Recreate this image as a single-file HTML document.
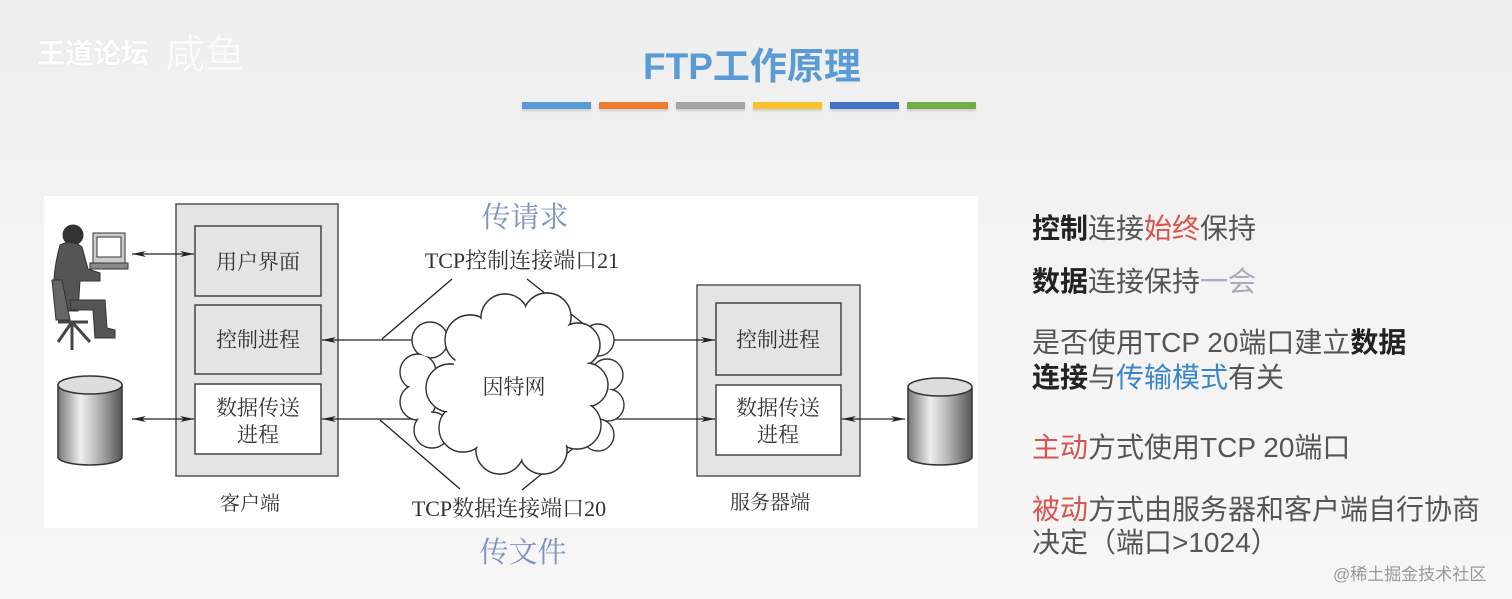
<!DOCTYPE html>
<html><head><meta charset="utf-8"><style>
html,body{margin:0;padding:0}
body{width:1512px;height:599px;overflow:hidden;background:linear-gradient(#eeeeee,#f3f3f3 40%,#f6f6f6);position:relative;font-family:"Liberation Sans","Noto Sans CJK SC",sans-serif}
.t{position:absolute;white-space:nowrap}
.r{font-size:28px;color:#555;left:1032px}
.b{color:#222;font-weight:bold}
.red{color:#d9534f}
.bl{color:#3b86c6}
.bar{position:absolute;top:102px;height:7px;width:69px;box-shadow:0 2px 2px rgba(0,0,0,.15)}
</style></head><body>
<div class="t" style="left:37px;top:32px;font-size:28px;color:#fff;font-weight:bold;text-shadow:0 0 2px #ddd">王道论坛</div>
<div class="t" style="left:165px;top:22px;font-size:40px;color:#fafafa;text-shadow:0 0 1px #ddd">咸鱼</div>
<div class="t" style="left:643px;top:36px;font-size:37px;color:#5b9bd5;font-weight:bold">FTP工作原理</div>
<div class="bar" style="left:522px;background:#5b9bd5"></div>
<div class="bar" style="left:599px;background:#ed7d31"></div>
<div class="bar" style="left:676px;background:#a5a5a5"></div>
<div class="bar" style="left:753px;background:#f7c12e"></div>
<div class="bar" style="left:830px;background:#4472c4"></div>
<div class="bar" style="left:907px;background:#70ad47"></div>

<svg style="position:absolute;left:0;top:0" width="1512" height="599">
<defs>
<marker id="a" markerWidth="14" markerHeight="8" refX="14" refY="4" orient="auto" markerUnits="userSpaceOnUse"><path d="M0,1 L14,4 L0,7 L4,4z" fill="#222"/></marker>
<marker id="s" markerWidth="14" markerHeight="8" refX="0" refY="4" orient="auto" markerUnits="userSpaceOnUse"><path d="M14,1 L0,4 L14,7 L10,4z" fill="#222"/></marker>
<linearGradient id="cy" x1="0" x2="1"><stop offset="0" stop-color="#777"/><stop offset=".35" stop-color="#eee"/><stop offset=".6" stop-color="#bbb"/><stop offset="1" stop-color="#555"/></linearGradient>
</defs>
<rect x="44" y="196" width="934" height="332" fill="#fff"/>
<g font-family="Liberation Serif, Noto Serif CJK SC, serif" fill="#333">
<rect x="176" y="204" width="162" height="272" fill="#e4e4e4" stroke="#555" stroke-width="1.5"/>
<rect x="195" y="226" width="126" height="70" fill="#e4e4e4" stroke="#444" stroke-width="1.5"/>
<rect x="195" y="305" width="126" height="69" fill="#e4e4e4" stroke="#444" stroke-width="1.5"/>
<rect x="195" y="384" width="126" height="70" fill="#fff" stroke="#444" stroke-width="1.5"/>
<text x="258" y="269" font-size="21" text-anchor="middle">用户界面</text>
<text x="258" y="347" font-size="21" text-anchor="middle">控制进程</text>
<text x="258" y="415" font-size="21" text-anchor="middle">数据传送</text>
<text x="258" y="442" font-size="21" text-anchor="middle">进程</text>
<text x="250" y="510" font-size="20" text-anchor="middle">客户端</text>
<rect x="697" y="285" width="163" height="191" fill="#e4e4e4" stroke="#555" stroke-width="1.5"/>
<rect x="716" y="303" width="125" height="72" fill="#e4e4e4" stroke="#444" stroke-width="1.5"/>
<rect x="716" y="385" width="125" height="70" fill="#fff" stroke="#444" stroke-width="1.5"/>
<text x="778" y="347" font-size="21" text-anchor="middle">控制进程</text>
<text x="778" y="415" font-size="21" text-anchor="middle">数据传送</text>
<text x="778" y="442" font-size="21" text-anchor="middle">进程</text>
<text x="770" y="509" font-size="20" text-anchor="middle">服务器端</text>
<g stroke="#222" stroke-width="1.3" fill="none">
<line x1="450" y1="340" x2="322" y2="340" marker-end="url(#a)"/>
<line x1="450" y1="419" x2="322" y2="419" marker-end="url(#a)"/>
<line x1="575" y1="340" x2="715" y2="340" marker-end="url(#a)"/>
<line x1="575" y1="419" x2="715" y2="419" marker-end="url(#a)"/>
<line x1="382" y1="339" x2="452" y2="279"/>
<line x1="600" y1="337" x2="527" y2="279"/>
<line x1="380" y1="420" x2="460" y2="489"/>
<line x1="608" y1="420" x2="522" y2="490"/>
<line x1="132" y1="254" x2="194" y2="254" marker-start="url(#s)" marker-end="url(#a)"/>
<line x1="132" y1="419" x2="194" y2="419" marker-start="url(#s)" marker-end="url(#a)"/>
<line x1="842" y1="419" x2="905" y2="419" marker-start="url(#s)" marker-end="url(#a)"/>
</g>
<g stroke="#333" stroke-width="1.4" fill="#fff">
<circle cx="430" cy="340" r="18"/><circle cx="418" cy="372" r="18"/><circle cx="418" cy="402" r="18"/><circle cx="432" cy="430" r="18"/>
<circle cx="598" cy="340" r="16"/><circle cx="607" cy="375" r="16"/><circle cx="608" cy="405" r="16"/><circle cx="598" cy="435" r="16"/>
<circle cx="470" cy="340" r="25"/><circle cx="505" cy="318" r="24"/><circle cx="547" cy="317" r="24"/><circle cx="578" cy="345" r="22"/><circle cx="586" cy="385" r="22"/><circle cx="577" cy="425" r="24"/><circle cx="543" cy="450" r="24"/><circle cx="500" cy="450" r="24"/><circle cx="463" cy="428" r="24"/><circle cx="450" cy="388" r="24"/>
</g>
<g fill="#fff">
<circle cx="430" cy="340" r="16.6"/><circle cx="418" cy="372" r="16.6"/><circle cx="418" cy="402" r="16.6"/><circle cx="432" cy="430" r="16.6"/>
<circle cx="598" cy="340" r="14.6"/><circle cx="607" cy="375" r="14.6"/><circle cx="608" cy="405" r="14.6"/><circle cx="598" cy="435" r="14.6"/>
</g>
<g stroke="#333" stroke-width="1.4" fill="#fff">
<circle cx="470" cy="340" r="25"/><circle cx="505" cy="318" r="24"/><circle cx="547" cy="317" r="24"/><circle cx="578" cy="345" r="22"/><circle cx="586" cy="385" r="22"/><circle cx="577" cy="425" r="24"/><circle cx="543" cy="450" r="24"/><circle cx="500" cy="450" r="24"/><circle cx="463" cy="428" r="24"/><circle cx="450" cy="388" r="24"/>
</g>
<g fill="#fff">
<circle cx="470" cy="340" r="23.6"/><circle cx="505" cy="318" r="22.6"/><circle cx="547" cy="317" r="22.6"/><circle cx="578" cy="345" r="20.6"/><circle cx="586" cy="385" r="20.6"/><circle cx="577" cy="425" r="22.6"/><circle cx="543" cy="450" r="22.6"/><circle cx="500" cy="450" r="22.6"/><circle cx="463" cy="428" r="22.6"/><circle cx="450" cy="388" r="22.6"/>
<circle cx="517" cy="384" r="66"/>
</g>
<text x="514" y="394" font-size="21" text-anchor="middle">因特网</text>
<text x="522" y="268" font-size="22" text-anchor="middle">TCP控制连接端口21</text>
<text x="509" y="516" font-size="22" text-anchor="middle">TCP数据连接端口20</text>
<text x="525" y="227" font-size="29" fill="#7f92c0" text-anchor="middle">传请求</text>
<text x="523" y="562" font-size="29" fill="#7f92c0" text-anchor="middle">传文件</text>
</g>
<g stroke="#333" stroke-width="1.5">
<path d="M58,385 v72 a32,8 0 0 0 64,0 v-72z" fill="url(#cy)"/>
<ellipse cx="90" cy="385" rx="32" ry="9" fill="#ddd"/>
<path d="M908,387 v70 a32,8 0 0 0 64,0 v-70z" fill="url(#cy)"/>
<ellipse cx="940" cy="387" rx="32" ry="9" fill="#ddd"/>
</g>
<g fill="#555" stroke="#333" stroke-width="1">
<rect x="93" y="233" width="32" height="30" fill="#ccc"/>
<rect x="97" y="237" width="24" height="20" fill="#fff"/>
<rect x="90" y="263" width="38" height="6" fill="#888"/>
<circle cx="73" cy="235" r="10" fill="#333"/>
<path d="M60,245 q12,-6 22,2 l6,22 l12,4 l0,8 l-20,0 l-2,30 l-22,0 q-6,-30 4,-66z"/>
<path d="M70,300 l35,0 l2,28 l8,2 l0,8 l-20,0 l-2,-28 l-22,0z"/>
<path d="M52,280 l10,0 l8,40 l-14,0z" fill="#666"/>
<path d="M58,322 l30,0 M72,322 l-14,20 M72,322 l18,20 M72,322 l0,28" stroke="#444" stroke-width="3" fill="none"/>
</g>
</svg>

<div class="t r" style="top:207px"><span class="b">控制</span>连接<span class="red">始终</span>保持</div>
<div class="t r" style="top:260px"><span class="b">数据</span>连接保持<span style="color:#aab">一会</span></div>
<div class="t r" style="top:321px">是否使用TCP 20端口建立<span class="b">数据</span></div>
<div class="t r" style="top:356px"><span class="b">连接</span>与<span class="bl">传输模式</span>有关</div>
<div class="t r" style="top:426px"><span class="red">主动</span>方式使用TCP 20端口</div>
<div class="t r" style="top:488px"><span class="red">被动</span>方式由服务器和客户端自行协商</div>
<div class="t r" style="top:521px">决定（端口&gt;1024）</div>
<div class="t" style="left:1333px;top:560px;font-size:17px;color:#999">@稀土掘金技术社区</div>
</body></html>
